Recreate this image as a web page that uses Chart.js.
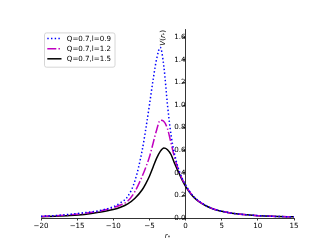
<!DOCTYPE html>
<html><head><meta charset="utf-8">
<script src="https://cdn.jsdelivr.net/npm/chart.js@4.4.1/dist/chart.umd.min.js"></script>
<style>html,body{margin:0;padding:0;background:#fff;overflow:hidden}</style>
</head><body>
<canvas id="c" width="327" height="245" style="width:327px;height:245px;display:block"></canvas>
<script>
// ---- data ----
const rStar = [-20,-18,-16,-14,-12,-10,-9,-8,-7,-6,-5.5,-5,-4.5,-4,-3.5,-3,-2.5,-2,-1.5,-1,-0.5,0,0.5,1,1.5,2,3,4,5,6,7,8,10,12,15];
const vL09 = [0.016,0.022,0.033,0.047,0.065,0.10,0.135,0.19,0.33,0.60,0.79,1.00,1.22,1.41,1.51,1.34,1.00,0.73,0.56,0.44,0.355,0.295,0.24,0.198,0.167,0.142,0.104,0.077,0.06,0.047,0.038,0.031,0.021,0.015,0.010];
const vL12 = [0.014,0.020,0.029,0.041,0.060,0.092,0.115,0.15,0.235,0.37,0.45,0.54,0.66,0.78,0.865,0.855,0.79,0.66,0.53,0.43,0.35,0.29,0.238,0.197,0.166,0.141,0.104,0.077,0.06,0.047,0.038,0.031,0.021,0.015,0.010];
const vL15 = [0.012,0.016,0.022,0.032,0.05,0.075,0.095,0.125,0.175,0.25,0.305,0.37,0.45,0.53,0.59,0.62,0.605,0.56,0.48,0.41,0.34,0.28,0.232,0.193,0.163,0.139,0.102,0.076,0.059,0.046,0.037,0.030,0.021,0.015,0.010];
const seriesLabels = ['Q=0.7,l=0.9','Q=0.7,l=1.2','Q=0.7,l=1.5'];
const xTickValues = [-20,-15,-10,-5,0,5,10,15];
const yTickValues = [0,0.2,0.4,0.6,0.8,1.0,1.2,1.4,1.6];
const xRange = [-20, 15];
const yRange = [0, 1.67];

const FONT = '"DejaVu Sans", sans-serif';
const FS = 7.1;

function pts(ys){ return rStar.map((x,i)=>({x:x,y:ys[i]})); }

const styles = [
  {color:'#0000ff', dash:[1.4,2.3]},
  {color:'#bf00bf', dash:[9,2.2,1.4,2.2]},
  {color:'#000000', dash:[]}
];
const series = [vL09, vL12, vL15];

const datasets = series.map((s,i)=>({
  label: seriesLabels[i],
  data: pts(s),
  borderColor: styles[i].color,
  backgroundColor: styles[i].color,
  borderWidth: 1.5,
  borderDash: styles[i].dash,
  pointRadius: 0,
  fill: false,
  cubicInterpolationMode: 'monotone'
}));

function drawMath(ctx, parts, x, y, align){
  const widths = parts.map(p=>{ ctx.font = (p[1]?'italic ':'') + (p[2]?FS*0.7:FS) + 'px ' + FONT; return ctx.measureText(p[0]).width; });
  const total = widths.reduce((a,b)=>a+b,0);
  let cx = align==='center' ? x-total/2 : (align==='right' ? x-total : x);
  ctx.textAlign = 'left';
  parts.forEach((p,i)=>{
    ctx.font = (p[1]?'italic ':'') + (p[2]?FS*0.7:FS) + 'px ' + FONT;
    ctx.fillText(p[0], cx, y + (p[2]?2:0));
    cx += widths[i];
  });
}

const extras = {
  id: 'extras',
  afterDraw(chart){
    const ctx = chart.ctx;
    const area = chart.chartArea;
    const xs = chart.scales.x;
    ctx.save();
    ctx.fillStyle = '#000';
    ctx.textBaseline = 'middle';
    // x title
    drawMath(ctx, [['r',true,false],['*',false,true]], (area.left+area.right)/2, 236, 'center');
    // y title rotated, end at top of axis
    ctx.save();
    ctx.translate(xs.getPixelForValue(0) - 22.5, area.top + 0.5);
    ctx.rotate(-Math.PI/2);
    drawMath(ctx, [['V',true,false],['(',false,false],['r',true,false],['*',false,true],[')',false,false]], 0, 0, 'right');
    ctx.restore();
    // legend
    const lx = area.left + 3.5, ly = area.top + 3.5, lw = 70.5, lh = 34.3, r = 2;
    ctx.beginPath();
    ctx.moveTo(lx+r, ly); ctx.lineTo(lx+lw-r, ly); ctx.quadraticCurveTo(lx+lw, ly, lx+lw, ly+r);
    ctx.lineTo(lx+lw, ly+lh-r); ctx.quadraticCurveTo(lx+lw, ly+lh, lx+lw-r, ly+lh);
    ctx.lineTo(lx+r, ly+lh); ctx.quadraticCurveTo(lx, ly+lh, lx, ly+lh-r);
    ctx.lineTo(lx, ly+r); ctx.quadraticCurveTo(lx, ly, lx+r, ly);
    ctx.closePath();
    ctx.fillStyle = 'rgba(255,255,255,0.8)';
    ctx.fill();
    ctx.strokeStyle = '#cccccc';
    ctx.lineWidth = 0.8;
    ctx.stroke();
    chart.data.datasets.forEach((ds,i)=>{
      const yy = ly + 5.7 + i*10.1;
      ctx.beginPath();
      ctx.setLineDash(ds.borderDash);
      ctx.strokeStyle = ds.borderColor;
      ctx.lineWidth = 1.5;
      ctx.moveTo(lx+2.8, yy); ctx.lineTo(lx+17, yy);
      ctx.stroke();
      ctx.setLineDash([]);
      ctx.fillStyle = '#000';
      ctx.font = FS + 'px ' + FONT;
      ctx.textAlign = 'left';
      ctx.fillText(ds.label, lx+22.3, yy+0.5);
    });
    ctx.restore();
  }
};

const fmtMinus = v => String(v).replace('-', '\u2212');

new Chart(document.getElementById('c'), {
  type: 'line',
  data: { datasets },
  options: {
    responsive: false,
    animation: false,
    devicePixelRatio: 1,
    layout: { padding: { left: 41, right: 33, top: 29.4, bottom: 0 } },
    plugins: { legend: { display: false }, tooltip: { enabled: false } },
    scales: {
      x: {
        type: 'linear', position: 'bottom',
        min: xRange[0], max: xRange[1],
        afterFit: s => { s.height = 27; },
        afterBuildTicks: s => { s.ticks = xTickValues.map(v=>({value:v})); },
        ticks: { color: '#000', font: { family: FONT, size: FS }, padding: 1.5, maxRotation: 0, autoSkip: false,
                 callback: v => fmtMinus(v) },
        grid: { drawOnChartArea: false, drawTicks: true, tickLength: 2.5, color: '#000', lineWidth: 0.8 },
        border: { display: true, color: '#000', width: 0.8 }
      },
      y: {
        type: 'linear', position: { x: 0 },
        min: yRange[0], max: yRange[1],
        afterFit: s => { s.width = 0; },
        afterBuildTicks: s => { s.ticks = yTickValues.map(v=>({value:v})); },
        ticks: { color: '#000', font: { family: FONT, size: FS }, padding: 2.5, autoSkip: false,
                 callback: v => Number(v).toFixed(1) },
        grid: { drawOnChartArea: false, drawTicks: true, tickLength: 2.5, color: '#000', lineWidth: 0.8 },
        border: { display: true, color: '#000', width: 0.8 }
      }
    }
  },
  plugins: [extras]
});
</script>
</body></html>
